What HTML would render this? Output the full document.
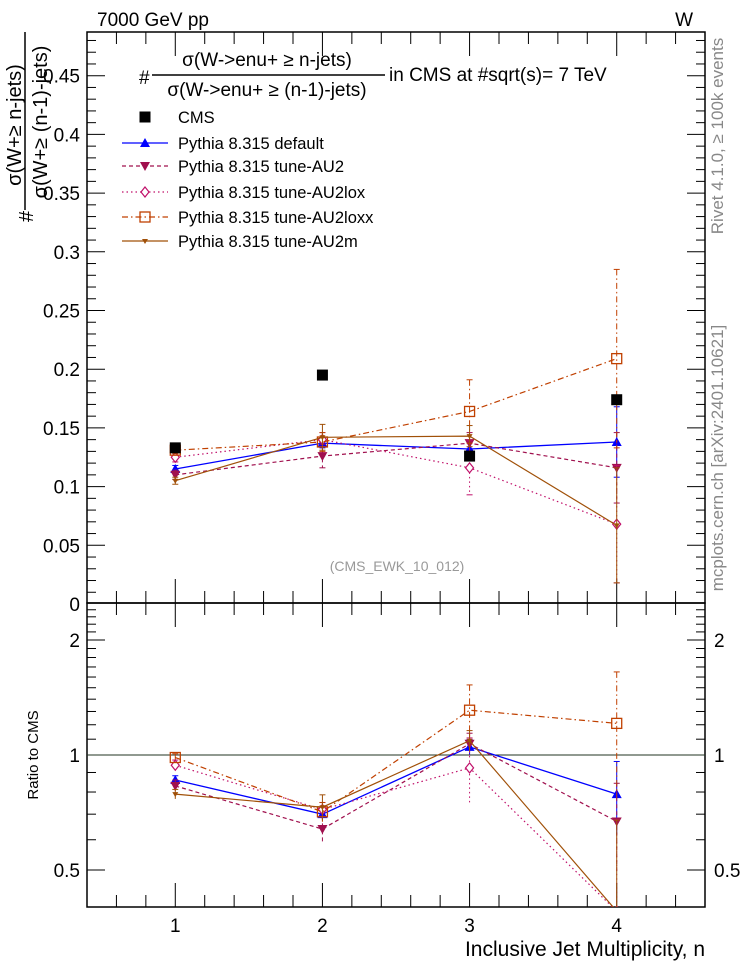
<!DOCTYPE html>
<html><head><meta charset="utf-8"><style>
html,body{margin:0;padding:0;background:#fff;width:746px;height:972px;overflow:hidden;}
svg{display:block;font-family:"Liberation Sans",sans-serif;overflow:hidden;}
</style></head><body>
<svg id="chart" width="746" height="972" viewBox="0 0 746 972" xmlns="http://www.w3.org/2000/svg">
<rect width="746" height="972" fill="#fff"/>
<g id="frames"></g>
<g id="marks"></g>
<text x="97" y="26" font-size="19">7000 GeV pp</text>
<text x="693" y="26" font-size="19" text-anchor="end">W</text>
<text x="139" y="84" font-size="19">#</text>
<text x="267" y="66" font-size="19" text-anchor="middle">σ(W-&gt;enu+ ≥ n-jets)</text>
<line x1="152" y1="75" x2="385" y2="75" stroke="#000" stroke-width="1.5"/>
<text x="267" y="96" font-size="19" text-anchor="middle">σ(W-&gt;enu+ ≥ (n-1)-jets)</text>
<text x="389" y="81" font-size="19">in CMS at #sqrt(s)= 7 TeV</text>
<text transform="translate(21,125) rotate(-90)" font-size="20" text-anchor="middle">σ(W+≥ n-jets)</text>
<line x1="25" y1="32" x2="25" y2="210" stroke="#000" stroke-width="1.5"/>
<text transform="translate(33,222) rotate(-90)" font-size="20">#</text>
<text transform="translate(47,122) rotate(-90)" font-size="20" text-anchor="middle">σ(W+≥ (n-1)-jets)</text>
<text transform="translate(38,755) rotate(-90)" font-size="15" text-anchor="middle">Ratio to CMS</text>
<text x="705" y="956" font-size="21" text-anchor="end">Inclusive Jet Multiplicity, n</text>
<text transform="translate(723,136) rotate(-90)" font-size="17" fill="#888" text-anchor="middle">Rivet 4.1.0, ≥ 100k events</text>
<text transform="translate(723,458) rotate(-90)" font-size="17" fill="#888" text-anchor="middle">mcplots.cern.ch [arXiv:2401.10621]</text>
<text x="397" y="571" font-size="14" fill="#999" text-anchor="middle">(CMS_EWK_10_012)</text>
<g id="legend"></g>
</svg>
<script>
const categories=[1,2,3,4];
const cmsValues=[0.133,0.195,0.126,0.174];
const defaultValues=[0.115,0.137,0.132,0.138];
const au2Values=[0.110,0.126,0.137,0.116];
const au2loxValues=[0.125,0.140,0.116,0.068];
const au2loxxValues=[0.131,0.138,0.164,0.209];
const au2mValues=[0.105,0.142,0.143,0.067];
const defaultErr=[0.003,0.004,0.006,0.03];
const au2Err=[0.004,0.01,0.009,0.03];
const au2loxErr=[0.004,0.006,0.023,0.05];
const au2loxxErr=[0.003,0.008,0.027,0.076];
const au2mErr=[0.003,0.011,0.009,0.049];
const defaultRatio=[0.86,0.70,1.05,0.79];
const au2Ratio=[0.83,0.64,1.07,0.67];
const au2loxRatio=[0.94,0.72,0.925,0.39];
const au2loxxRatio=[0.985,0.71,1.31,1.21];
const au2mRatio=[0.79,0.73,1.09,0.39];
const upperTicks=[0,0.05,0.1,0.15,0.2,0.25,0.3,0.35,0.4,0.45];
const upperTickLabels=["0","0.05","0.1","0.15","0.2","0.25","0.3","0.35","0.4","0.45"];
const ratioTicks=[0.5,1,2];
const ratioTickLabels=["0.5","1","2"];

const NS="http://www.w3.org/2000/svg";
const L=87,R=705,T1=32,B1=603,T2=603,B2=907;
const xs=v=>L+(v-0.4)/4.2*(R-L);
const yU=v=>604-v*1174;
const yR=v=>755-Math.log10(v)*382;
function mk(p,tag,a){const e=document.createElementNS(NS,tag);for(const k in a)e.setAttribute(k,a[k]);p.appendChild(e);return e;}
const fr=document.getElementById('frames'),mg=document.getElementById('marks'),lg=document.getElementById('legend');

let r1=mk(fr,'rect',{x:L,y:T1,width:R-L,height:B1-T1,fill:'none',stroke:'#000','stroke-width':1.5});


let r2=mk(fr,'rect',{x:L,y:T2,width:R-L,height:B2-T2,fill:'none',stroke:'#000','stroke-width':1.5});


for(let v=0.4;v<=4.61;v+=0.2){
  const major=Math.abs(v-Math.round(v))<0.01;
  const x=xs(v);
  [[B1,-1],[T1,1],[B2,-1],[T2,1]].forEach(([y,d])=>{mk(fr,'line',{x1:x,y1:y,x2:x,y2:y+d*(major?24:12),stroke:'#000','stroke-width':1});});
}
categories.forEach(c=>{
  const t=mk(fr,'text',{x:xs(c),y:932,'font-size':19,'text-anchor':'middle'});t.textContent=c;
  
  
});
for(let i=0;i<=48;i++){const v=i*0.01,y=yU(v);if(y<T1||y>B1)continue;const major=i%5==0;const len=major?18:9;
  mk(fr,'line',{x1:L,y1:y,x2:L+len,y2:y,stroke:'#000'});mk(fr,'line',{x1:R,y1:y,x2:R-len,y2:y,stroke:'#000'});}
upperTicks.forEach((v,i)=>{const t=mk(fr,'text',{x:80,y:yU(v)+7,'font-size':19,'text-anchor':'end'});t.textContent=upperTickLabels[i];
  
  });
[0.4,0.5,0.6,0.7,0.8,0.9,1,1.1,1.2,1.3,1.4,1.5,1.6,1.7,1.8,1.9,2,2.1,2.2,2.3,2.4,2.5].forEach(v=>{const y=yR(v);if(y<T2||y>B2)return;const major=[0.5,1,2].includes(v);const len=major?18:9;
  mk(fr,'line',{x1:L,y1:y,x2:L+len,y2:y,stroke:'#000'});mk(fr,'line',{x1:R,y1:y,x2:R-len,y2:y,stroke:'#000'});});
ratioTicks.forEach((v,i)=>{[[80,'end'],[714,'start']].forEach(([x,a])=>{const t=mk(fr,'text',{x:x,y:yR(v)+7,'font-size':19,'text-anchor':a});t.textContent=ratioTickLabels[i];
  
  });});
let ref=mk(fr,'line',{x1:L,y1:yR(1),x2:R,y2:yR(1),stroke:'#223322','stroke-width':1});



const series=[
 {name:'default',label:'Pythia 8.315 default',col:'#0000ff',dash:'',mark:'tri',v:defaultValues,e:defaultErr,r:defaultRatio,w:1.3},
 {name:'au2',label:'Pythia 8.315 tune-AU2',col:'#a0104e',dash:'4,3',mark:'dtri',v:au2Values,e:au2Err,r:au2Ratio,w:1.2},
 {name:'au2lox',label:'Pythia 8.315 tune-AU2lox',col:'#c0106a',dash:'1.5,3',mark:'dia',v:au2loxValues,e:au2loxErr,r:au2loxRatio,w:1.2},
 {name:'au2loxx',label:'Pythia 8.315 tune-AU2loxx',col:'#c04000',dash:'6,3,1.5,3',mark:'sq',v:au2loxxValues,e:au2loxxErr,r:au2loxxRatio,w:1.2},
 {name:'au2m',label:'Pythia 8.315 tune-AU2m',col:'#a05008',dash:'',mark:'small',v:au2mValues,e:au2mErr,r:au2mRatio,w:1.2}
];
function marker(p,type,x,y,col){
  let e;
  if(type=='tri')e=mk(p,'polygon',{points:`${x-5},${y+4} ${x+5},${y+4} ${x},${y-5}`,fill:col});
  else if(type=='dtri')e=mk(p,'polygon',{points:`${x-5},${y-4} ${x+5},${y-4} ${x},${y+5}`,fill:col});
  else if(type=='dia')e=mk(p,'polygon',{points:`${x},${y-5} ${x+4},${y} ${x},${y+5} ${x-4},${y}`,fill:'#fff',stroke:col,'stroke-width':1.2});
  else if(type=='sq')e=mk(p,'rect',{x:x-5,y:y-5,width:10,height:10,fill:'none',stroke:col,'stroke-width':1.3});
  else if(type=='small')e=mk(p,'polygon',{points:`${x-3},${y-2} ${x+3},${y-2} ${x},${y+3}`,fill:col});
  else e=mk(p,'rect',{x:x-5.5,y:y-5.5,width:11,height:11,fill:col});
  return e;
}
const clipU=mk(mg,'clipPath',{id:'cu'});mk(clipU,'rect',{x:L,y:T1,width:R-L,height:B1-T1});
const clipR=mk(mg,'clipPath',{id:'cr'});mk(clipR,'rect',{x:L,y:T2,width:R-L,height:B2-T2});
const gu=mk(mg,'g',{'clip-path':'url(#cu)'}),gr=mk(mg,'g',{'clip-path':'url(#cr)'});
series.forEach(s=>{
  const pu=categories.map((c,i)=>xs(c)+','+yU(s.v[i])).join(' ');
  const l=mk(gu,'polyline',{points:pu,fill:'none',stroke:s.col,'stroke-width':s.w,'stroke-dasharray':s.dash});
  
  
  const pr=categories.map((c,i)=>xs(c)+','+yR(s.r[i])).join(' ');
  const l2=mk(gr,'polyline',{points:pr,fill:'none',stroke:s.col,'stroke-width':s.w,'stroke-dasharray':s.dash});
  
  
  categories.forEach((c,i)=>{
    const x=xs(c);
    const y1=yU(s.v[i]+s.e[i]),y2=yU(Math.max(s.v[i]-s.e[i],0));
    mk(gu,'line',{x1:x,y1:y1,x2:x,y2:y2,stroke:s.col,'stroke-width':1,'stroke-dasharray':s.dash});
    mk(gu,'line',{x1:x-3,y1:y1,x2:x+3,y2:y1,stroke:s.col});mk(gu,'line',{x1:x-3,y1:y2,x2:x+3,y2:y2,stroke:s.col});
    const rr=s.e[i]/s.v[i];
    const q1=yR(s.r[i]*(1+rr)),q2=yR(Math.max(s.r[i]*(1-rr),0.01));
    mk(gr,'line',{x1:x,y1:q1,x2:x,y2:q2,stroke:s.col,'stroke-width':1,'stroke-dasharray':s.dash});
    mk(gr,'line',{x1:x-3,y1:q1,x2:x+3,y2:q1,stroke:s.col});
    const m=marker(gu,s.mark,x,yU(s.v[i]),s.col);
    
    
    const m2=marker(gr,s.mark,x,yR(s.r[i]),s.col);
    
    
  });
});
categories.forEach((c,i)=>{
  const m=marker(gu,'cms',xs(c),yU(cmsValues[i]),'#000');
  
  
});
const ly=[117,143,166,192,217,241];
let e0=marker(lg,'cms',145,ly[0],'#000');


let t0=mk(lg,'text',{x:178,y:ly[0]+6,'font-size':16.5});t0.textContent='CMS';


series.forEach((s,i)=>{
  const y=ly[i+1];
  mk(lg,'line',{x1:122,y1:y,x2:168,y2:y,stroke:s.col,'stroke-width':s.w,'stroke-dasharray':s.dash});
  marker(lg,s.mark,145,y,s.col);
  const t=mk(lg,'text',{x:178,y:y+6,'font-size':16.5});t.textContent=s.label;
  
  
});
</script>
</body></html>
